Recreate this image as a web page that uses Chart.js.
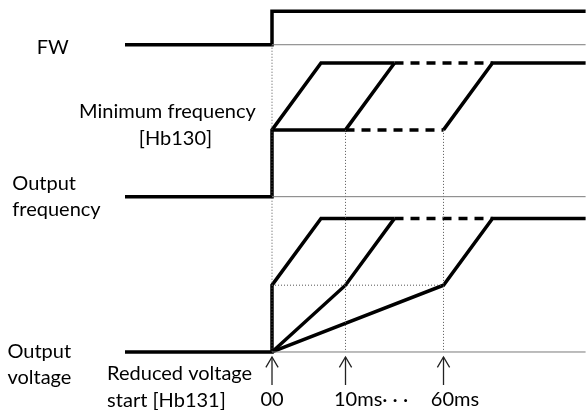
<!DOCTYPE html>
<html>
<head>
<meta charset="utf-8">
<script src="https://cdn.jsdelivr.net/npm/chart.js@4"></script>
<style>
  body { margin: 0; background: #fff; }
  #wrap { width: 586px; height: 410px; position: relative; }
</style>
</head>
<body>
<div id="wrap"><canvas id="myChart"></canvas></div>
<script>
// time axis (schematic units, 0 = FW on)
const tBegin = -6;
const tEnd = 12.8;
const rampLen = 2;          // acceleration ramp width
const startTimes = [0, 3, 7]; // 00, 10ms, 60ms reduced-voltage start
const topEnd = 5;            // end of first solid top segment
const lastTop = 9;           // start of final solid top segment

// lane baselines and levels
const fwBase = 9.2;
const fwHigh = 1;
const freqBase = 4.65;
const freqMin = 2;
const freqTop = 4;
const voltBase = 0;
const voltMid = 2;
const voltTop = 4;

// texts
const sideLabels = ["FW", "Minimum frequency", "[Hb130]", "Output", "frequency", "Output", "voltage", "Reduced voltage", "start [Hb131]"];
const sideX = [-9.6, -4.27, -3.94, -10.6, -10.6, -10.8, -10.8, -6.73, -6.73];
const sideY = [9.13, 7.19, 6.38, 5.03, 4.25, 0.0, -0.78, -0.66, -1.44];
const sideAlign = ["left", "center", "center", "left", "left", "left", "left", "left", "left"];
const tickLabels = ["00", "10ms\u00b7 \u00b7 \u00b7", "60ms"];
const tickX = [0, 2.53, 7.47];
const tickAlign = ["center", "left", "center"];
const tickY = -1.42;

const pt = (x, y) => ({ x, y });

const thick = (data, dashed) => ({
  data,
  showLine: true,
  borderColor: "#000",
  borderWidth: 3.5,
  borderDash: dashed ? [9, 7] : [],
  pointRadius: 0,
  tension: 0,
});
const thin = (data) => ({
  data,
  showLine: true,
  borderColor: "#7a7a7a",
  borderWidth: 1,
  pointRadius: 0,
});
const dotted = (data) => ({
  data,
  showLine: true,
  borderColor: "#555",
  borderWidth: 1,
  borderDash: [1, 2],
  pointRadius: 0,
});
const arrowLine = (data) => ({
  data,
  showLine: true,
  borderColor: "#222",
  borderWidth: 1.3,
  pointRadius: 0,
});

const [s0, s1, s2] = startTimes;
const datasets = [
  // baselines
  thin([pt(s0, fwBase), pt(tEnd, fwBase)]),
  thin([pt(s0, freqBase), pt(tEnd, freqBase)]),
  thin([pt(s0, voltBase), pt(tEnd, voltBase)]),
  // guides
  dotted([pt(s0, fwBase), pt(s0, voltBase)]),
  dotted([pt(s1, freqBase + freqMin), pt(s1, voltBase)]),
  dotted([pt(s2, freqBase + freqMin), pt(s2, voltBase)]),
  dotted([pt(s0, voltBase + voltMid), pt(s2, voltBase + voltMid)]),
  // FW
  thick([pt(tBegin, fwBase), pt(s0, fwBase), pt(s0, fwBase + fwHigh), pt(tEnd, fwBase + fwHigh)]),
  // output frequency
  thick([pt(tBegin, freqBase), pt(s0, freqBase), pt(s0, freqBase + freqMin), pt(s0 + rampLen, freqBase + freqTop), pt(topEnd, freqBase + freqTop)]),
  thick([pt(s0, freqBase + freqMin), pt(s1, freqBase + freqMin), pt(s1 + rampLen, freqBase + freqTop)]),
  thick([pt(s2, freqBase + freqMin), pt(s2 + rampLen, freqBase + freqTop), pt(tEnd, freqBase + freqTop)]),
  thick([pt(s1, freqBase + freqMin), pt(s2, freqBase + freqMin)], true),
  thick([pt(topEnd, freqBase + freqTop), pt(lastTop, freqBase + freqTop)], true),
  // output voltage
  thick([pt(tBegin, voltBase), pt(s0, voltBase), pt(s0, voltBase + voltMid), pt(s0 + rampLen, voltBase + voltTop), pt(topEnd, voltBase + voltTop)]),
  thick([pt(s0, voltBase), pt(s1, voltBase + voltMid), pt(s1 + rampLen, voltBase + voltTop)]),
  thick([pt(s0, voltBase), pt(s2, voltBase + voltMid), pt(s2 + rampLen, voltBase + voltTop), pt(tEnd, voltBase + voltTop)]),
  thick([pt(topEnd, voltBase + voltTop), pt(lastTop, voltBase + voltTop)], true),
];

// arrows under the start times
startTimes.forEach((t) => {
  datasets.push(arrowLine([pt(t, -0.15), pt(t, -0.99)]));
  datasets.push(arrowLine([pt(t - 0.25, -0.46), pt(t, -0.15), pt(t + 0.25, -0.46)]));
});

const textPlugin = {
  id: "texts",
  afterDraw(chart) {
    const { ctx, scales } = chart;
    ctx.save();
    ctx.fillStyle = "#000";
    ctx.font = "20px Lato";
    ctx.textBaseline = "middle";
    sideLabels.forEach((label, i) => {
      ctx.textAlign = sideAlign[i];
      ctx.fillText(label, scales.x.getPixelForValue(sideX[i]), scales.y.getPixelForValue(sideY[i]));
    });
    tickLabels.forEach((label, i) => {
      ctx.textAlign = tickAlign[i];
      ctx.fillText(label, scales.x.getPixelForValue(tickX[i]), scales.y.getPixelForValue(tickY));
    });
    ctx.restore();
  },
};

new Chart(document.getElementById("myChart"), {
  type: "scatter",
  data: { datasets },
  options: {
    responsive: true,
    maintainAspectRatio: false,
    animation: false,
    layout: { padding: 0 },
    plugins: { legend: { display: false }, tooltip: { enabled: false } },
    scales: {
      x: { type: "linear", display: false, min: -11.102, max: 12.816 },
      y: { type: "linear", display: false, min: -1.737, max: 10.539 },
    },
  },
  plugins: [textPlugin],
});
</script>
</body>
</html>
